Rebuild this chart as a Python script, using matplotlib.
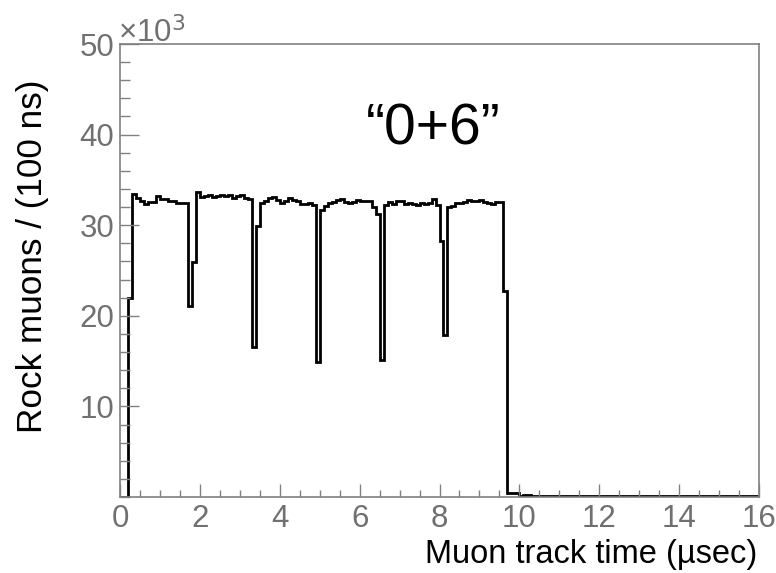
import numpy as np
import matplotlib
matplotlib.use('Agg')
import matplotlib.pyplot as plt
from matplotlib.ticker import MultipleLocator

plt.rcParams['font.family'] = ['Liberation Sans', 'DejaVu Sans']

# rock muons per 100 ns bin, in units of 10^3, bins from 0 to 16 usec
bin_width = 0.1
counts = [
    0.0, 0.0, 22.0,
    33.4, 33.0, 32.7, 32.3, 32.6, 32.6, 33.2, 32.9, 32.9, 32.7, 32.7, 32.5, 32.5, 32.4,
    21.1, 25.9,
    33.7, 33.1, 33.2, 33.3,
    33.1, 33.2, 33.3, 33.2, 33.3, 33.0, 33.2, 33.3, 33.0, 32.9,
    16.6, 29.9,
    32.4, 32.7, 33.0, 33.1, 32.8, 32.5, 32.7, 33.0, 32.8, 32.7, 32.3,
    32.3, 32.5, 32.2,
    14.9,
    31.7, 32.1, 32.4, 32.6, 32.8, 32.9, 32.6, 32.4, 32.6, 32.8,
    32.7, 32.7, 32.7, 32.0, 31.2,
    15.1,
    32.2, 32.6, 32.3, 32.7, 32.7,
    32.3, 32.5, 32.3, 32.2, 32.5, 32.3, 32.4, 32.9, 32.2,
    28.3, 17.9,
    32.0, 32.1, 32.4, 32.4, 32.6, 32.8, 32.7, 32.7, 32.8, 32.6, 32.5, 32.3, 32.6, 32.6,
    22.7,
    0.40, 0.40, 0.40,
    # 100 .. 159
    0.08, 0.18, 0.18, 0.08, 0.08, 0.15, 0.15, 0.15, 0.08, 0.08,
    0.15, 0.15, 0.15, 0.08, 0.08, 0.08, 0.08, 0.08, 0.08, 0.08,
    0.08, 0.08, 0.08, 0.08, 0.08, 0.15, 0.15, 0.08, 0.08, 0.08,
    0.08, 0.08, 0.08, 0.15, 0.15, 0.15, 0.08, 0.08, 0.08, 0.08,
    0.08, 0.08, 0.08, 0.15, 0.15, 0.08, 0.08, 0.08, 0.08, 0.08,
    0.15, 0.15, 0.15, 0.15, 0.15, 0.08, 0.08, 0.08, 0.08, 0.08,
]
edges = np.arange(len(counts) + 1) * bin_width

W, H = 776, 573
gray = '#808080'
fig = plt.figure(figsize=(W / 100, H / 100), dpi=100)
ax = fig.add_axes([120 / W, 1 - 497 / H, 639 / W, 453 / H])

ax.stairs(counts, edges, color='black', lw=2.0)

ax.set_xlim(0, 16)
ax.set_ylim(0, 50)
ax.xaxis.set_major_locator(MultipleLocator(2))
ax.xaxis.set_minor_locator(MultipleLocator(0.5))
ax.yaxis.set_minor_locator(MultipleLocator(2))
ax.set_yticks([10, 20, 30, 40, 50])

for s in ax.spines.values():
    s.set_color(gray)
    s.set_linewidth(1.2)

ax.tick_params(axis='x', which='major', direction='in', length=9.5, width=1, color=gray,
               labelcolor='#707070', labelsize=22.5, pad=5)
ax.tick_params(axis='x', which='minor', direction='in', length=5, width=1, color=gray)
ax.tick_params(axis='y', which='major', direction='in', length=14, width=1, color=gray,
               labelcolor='#707070', labelsize=22.5, pad=4)
ax.tick_params(axis='y', which='minor', direction='in', length=7, width=1, color=gray)

fig.text(118 / W, 1 - 42 / H, '\u00d710$^{3}$', fontsize=22.5,
         color='#707070', ha='left', va='baseline')

fig.text(757 / W, 1 - 563 / H, 'Muon track time (µsec)', fontsize=23.5,
         ha='right', va='baseline')
fig.text(33 / W, 1 - 80 / H, 'Rock muons / (100 ns)', fontsize=25.3,
         rotation=90, ha='center', va='top')

ax.text(7.85, 40.6, '\u201c0+6\u201d', fontsize=41, ha='center', va='center')

fig.savefig('out.png', dpi=100)
